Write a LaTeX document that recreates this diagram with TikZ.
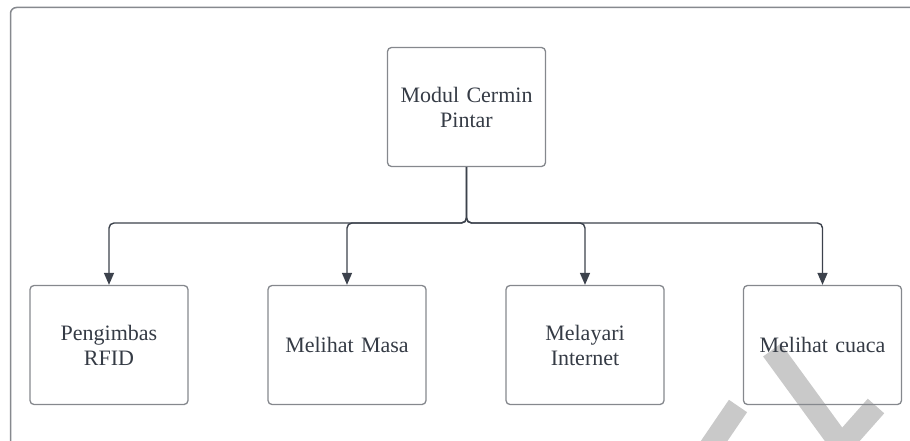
\documentclass[tikz,border=0pt]{standalone}
\usepackage{fontspec}
\setmainfont{Liberation Serif}
\usetikzlibrary{arrows.meta}
\definecolor{boxline}{HTML}{85888D}
\definecolor{txt}{HTML}{353B45}
\definecolor{conn}{HTML}{3C424C}
\definecolor{frame}{HTML}{86898E}
\definecolor{wm}{HTML}{C9C9C9}
\tikzset{
  box/.style={draw=boxline, line width=1.3pt, rounded corners=4pt,
    minimum width=158pt, minimum height=119pt, text width=150pt, align=center,
    text=txt, font=\fontsize{22}{25}\selectfont, inner sep=0pt},
  conn/.style={draw=conn, line width=1.4pt, rounded corners=5pt,
    -{Triangle[length=12pt,width=10pt]}},
  wmark/.style={draw=wm, line width=22pt},
}
\begin{document}
\begin{tikzpicture}[x=1pt,y=-1pt]
\useasboundingbox (0,0) rectangle (910,441);
% outer frame
\coordinate (fa) at (10.5,460);
\coordinate (fb) at (10.5,7.5);
\coordinate (fc) at (930,7.5);
\draw[frame, line width=1.5pt, rounded corners=6pt] (fa) -- (fb) -- (fc);
% watermark
\coordinate (w1) at (708,450);
\coordinate (w2) at (738,406);
\coordinate (w3) at (772,350);
\coordinate (w4) at (845,450);
\coordinate (w5) at (845,441);
\coordinate (w6) at (876,406);
\draw[wmark] (w1) -- (w2);
\draw[wmark] (w3) -- (w4);
\draw[wmark] (w5) -- (w6);
% nodes
\node[box] (root) at (466.5,107) {Modul Cermin\\Pintar};
\node[box] (b1) at (109,345) {Pengimbas\\RFID};
\node[box] (b2) at (347,345) {Melihat Masa};
\node[box] (b3) at (585,345) {Melayari\\Internet};
\node[box] (b4) at (822.5,345) {Melihat cuaca};
% connectors
\coordinate (j) at (466.5,223);
\foreach \b in {b1,b2,b3,b4}{
  \draw[conn] (root.south) -- (j) -| (\b.north);
}
\end{tikzpicture}
\end{document}
